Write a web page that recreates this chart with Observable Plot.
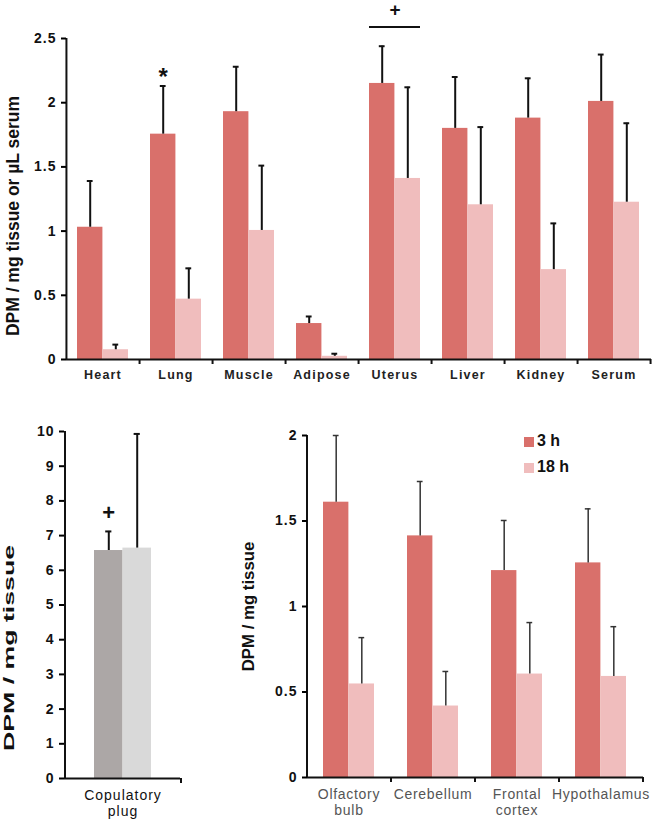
<!DOCTYPE html>
<html><head><meta charset="utf-8">
<script src="https://cdn.jsdelivr.net/npm/d3@7"></script>
<script src="https://cdn.jsdelivr.net/npm/@observablehq/plot@0.6"></script>
<style>
body{margin:0;background:#fff;font-family:"Liberation Sans",Arial,sans-serif;}
#wrap{position:relative;width:661px;height:824px;overflow:hidden;}
#bottom{display:flex;}
svg text{font-family:"Liberation Sans",Arial,sans-serif;}
g[aria-label="y-axis tick label"] text{font-weight:bold;font-size:14px;letter-spacing:1px;fill:#111;}
g[aria-label="y-axis label"] text{font-weight:bold;fill:#111;}
#top g[aria-label="x-axis tick label"] text{font-weight:bold;font-size:12.5px;letter-spacing:1.2px;fill:#222;}
#bl g[aria-label="x-axis tick label"] text{font-size:14px;letter-spacing:1px;fill:#111;}
#br g[aria-label="x-axis tick label"] text{font-size:14px;letter-spacing:0.7px;fill:#555;}
#legend{position:absolute;left:524px;top:424px;font-weight:bold;font-size:16px;color:#111;}
#legend .li{display:flex;align-items:flex-end;height:26px;}
#legend .sw{display:inline-block;width:10px;height:10px;margin-right:3px;margin-bottom:3px;}
</style></head><body>
<div id="wrap">
  <div id="top"></div>
  <div id="bottom"><div id="bl"></div><div id="br"></div></div>
  <div id="legend"></div>
</div>
<script>
// ---- data ----
const series = ["3 h", "18 h"];
const seriesColors = ["#d9706b", "#f0bdbd"];
const plugColors = ["#aca7a6", "#d9d9d9"];

const tissues = ["Heart", "Lung", "Muscle", "Adipose", "Uterus", "Liver", "Kidney", "Serum"];
const tissue3h = [1.03, 1.755, 1.93, 0.28, 2.15, 1.80, 1.88, 2.01];
const tissue3hErr = [0.36, 0.375, 0.35, 0.055, 0.29, 0.40, 0.31, 0.365];
const tissue18h = [0.076, 0.47, 1.005, 0.025, 1.41, 1.205, 0.70, 1.225];
const tissue18hErr = [0.04, 0.24, 0.505, 0.02, 0.71, 0.605, 0.36, 0.615];
const tissueTicks = [0, 0.5, 1, 1.5, 2, 2.5];

const plugCats = ["Copulatory plug"];
const plugLabels = ["Copulatory\nplug"];
const plug3h = [6.57];
const plug3hErr = [0.55];
const plug18h = [6.64];
const plug18hErr = [3.29];
const plugTicks = [0, 1, 2, 3, 4, 5, 6, 7, 8, 9, 10];

const brain = ["Olfactory bulb", "Cerebellum", "Frontal cortex", "Hypothalamus"];
const brainLabels = ["Olfactory\nbulb", "Cerebellum", "Frontal\ncortex", "Hypothalamus"];
const brain3h = [1.61, 1.413, 1.21, 1.255];
const brain3hErr = [0.39, 0.318, 0.293, 0.316];
const brain18h = [0.547, 0.418, 0.605, 0.591];
const brain18hErr = [0.271, 0.202, 0.301, 0.291];
const brainTicks = [0, 0.5, 1, 1.5, 2];

// significance annotations
const topStar = {cat: "Lung", series: "3 h", text: "*", y: 2.2};
const topPlus = {cat: "Uterus", text: "+", y: 2.72, lineY: 2.59};
const plugPlus = {cat: "Copulatory plug", series: "3 h", text: "+", y: 7.65};

function groupedChart(o) {
  const n = o.cats.length;
  const step = (o.width - o.ml - o.mr) / n;
  const bw = step * (1 - o.pad);
  const rows = o.cats.flatMap((c, i) => [
    {cat: c, series: series[0], value: o.v3[i], err: o.e3[i]},
    {cat: c, series: series[1], value: o.v18[i], err: o.e18[i]}
  ]);
  const r3 = rows.filter(d => d.series === series[0]);
  const r18 = rows.filter(d => d.series === series[1]);
  const cap = 3;
  const errMarks = [[r3, -1], [r18, 1]].flatMap(([r, s]) => [
    Plot.ruleX(r, {x: "cat", y1: "value", y2: d => d.value + d.err, dx: s * bw / 4,
      stroke: o.errColor, strokeWidth: o.errWidth}),
    Plot.tickY(r, {x: "cat", y: d => d.value + d.err, dx: s * bw / 4,
      insetLeft: bw / 2 - cap, insetRight: bw / 2 - cap, stroke: o.errColor, strokeWidth: o.errWidth})
  ]);
  const svg = Plot.plot({
    width: o.width, height: o.height,
    marginLeft: o.ml, marginRight: o.mr, marginTop: o.mt, marginBottom: o.mb,
    x: {domain: o.cats, paddingInner: o.pad, paddingOuter: o.pad / 2, label: null},
    y: {domain: o.yDomain},
    marks: [
      Plot.barY(r3, {x: "cat", y: "value", fill: o.colors[0], insetRight: bw / 2}),
      Plot.barY(r18, {x: "cat", y: "value", fill: o.colors[1], insetLeft: bw / 2}),
      ...errMarks,
      Plot.ruleY([0], {stroke: "#111", strokeWidth: 2}),
      Plot.ruleX([o.cats[0]], {x: d => d, dx: -step / 2, stroke: "#111", strokeWidth: 2}),
      Plot.axisY({ticks: o.yTicks, tickFormat: d => d3.format("~g")(d), tickSize: 5, tickPadding: 5,
        strokeWidth: 2, label: o.ylabel, labelAnchor: "center", labelArrow: "none", labelOffset: o.labelOffset,
        fontSize: o.yLabelSize}),
      Plot.axisX({tickSize: 5, tickFormat: () => "", dx: step / 2, strokeWidth: 2, stroke: "#111", label: null}),
      Plot.axisX({tickSize: 0, tickPadding: o.xpad, lineHeight: 1.15, label: null,
        tickFormat: d => o.labels[o.cats.indexOf(d)]}),
      ...(o.extra ? o.extra(bw) : [])
    ]
  });
  // shift (along its length) / stretch the axis title as in the reference
  d3.select(svg).selectAll('g[aria-label="y-axis label"] text').each(function() {
    const t = this.getAttribute("transform") || "";
    this.setAttribute("transform", `${t} translate(${-o.labelShift},0) scale(${o.labelStretch},1)`);
  });
  return svg;
}

const topChart = groupedChart({
  cats: tissues, labels: tissues, v3: tissue3h, e3: tissue3hErr, v18: tissue18h, e18: tissue18hErr,
  colors: seriesColors, width: 661, height: 392, ml: 66, mr: 10, mt: 38, mb: 33,
  yDomain: [0, 2.5], yTicks: tissueTicks, pad: 0.3, ylabel: "DPM / mg tissue or µL serum",
  labelOffset: 60, yLabelSize: 17.5, labelShift: 17, labelStretch: 1, errColor: "#111", errWidth: 2, xpad: 9,
  extra: bw => [
    Plot.text([topStar], {x: "cat", y: "y", text: "text", dx: -bw / 4, fontSize: 24, fontWeight: "bold", fill: "#111"}),
    Plot.tickY([topPlus], {x: "cat", y: "lineY", stroke: "#111", strokeWidth: 2}),
    Plot.text([topPlus], {x: "cat", y: "y", text: "text", fontSize: 19, fontWeight: "bold", fill: "#111"})
  ]
});
document.getElementById("top").append(topChart);

const plugChart = groupedChart({
  cats: plugCats, labels: plugLabels, v3: plug3h, e3: plug3hErr, v18: plug18h, e18: plug18hErr,
  colors: plugColors, width: 200, height: 432, ml: 64, mr: 20, mt: 39, mb: 46,
  yDomain: [0, 10], yTicks: plugTicks, pad: 0.51, ylabel: "DPM / mg tissue",
  labelOffset: 61, yLabelSize: 15, labelShift: 43, labelStretch: 1.78, errColor: "#111", errWidth: 2, xpad: 10,
  extra: bw => [
    Plot.text([plugPlus], {x: "cat", y: "y", text: "text", dx: -bw / 4, fontSize: 22, fontWeight: "bold", fill: "#111"})
  ]
});
document.getElementById("bl").append(plugChart);

const brainChart = groupedChart({
  cats: brain, labels: brainLabels, v3: brain3h, e3: brain3hErr, v18: brain18h, e18: brain18hErr,
  colors: seriesColors, width: 461, height: 432, ml: 107, mr: 18, mt: 43, mb: 47,
  yDomain: [0, 2], yTicks: brainTicks, pad: 0.39, ylabel: "DPM / mg tissue",
  labelOffset: 65, yLabelSize: 16, labelShift: 0, labelStretch: 1.05, errColor: "#333", errWidth: 1.5, xpad: 10
});
document.getElementById("br").append(brainChart);

// legend
const legend = d3.select("#legend");
series.forEach((s, i) => {
  const item = legend.append("div").attr("class", "li");
  item.append("span").attr("class", "sw").style("background", seriesColors[i]);
  item.append("span").text(s);
});
</script>
</body></html>
